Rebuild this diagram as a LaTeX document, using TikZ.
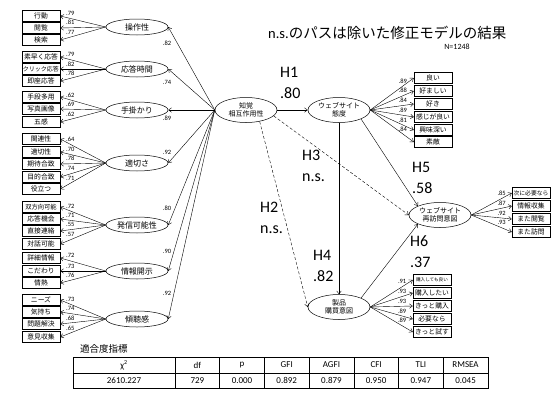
\documentclass[tikz,border=0pt]{standalone}
\usepackage{fontspec}
\setmainfont{Carlito}
\newfontfamily\jp{Noto Sans CJK JP}
\usetikzlibrary{shapes.geometric,arrows.meta,calc}
\begin{document}
\begin{tikzpicture}[x=1pt,y=-1pt,
  ind/.style={draw, line width=0.5pt, minimum width=38pt, minimum height=11pt, inner sep=0pt, font=\jp\fontsize{6.8}{7}\selectfont},
  fac/.style={draw, ellipse, line width=0.5pt, minimum width=62pt, minimum height=16pt, inner sep=0pt, font=\jp\fontsize{8}{9}\selectfont},
  lat/.style={fac, minimum height=25pt, align=center, font=\jp\fontsize{7}{8.5}\selectfont},
  ld/.style={inner sep=0pt, font=\fontsize{6.5}{7}\selectfont},
  arr/.style={-{Straight Barb[length=3pt,width=4.5pt]}, line width=0.4pt},
  darr/.style={arr, dash pattern=on 3pt off 2pt},
  hyp/.style={inner sep=0pt, anchor=west, align=left, font=\fontsize{16}{21}\selectfont},
  cell/.style={draw, line width=0.5pt, minimum width=44.7pt, minimum height=15.5pt, inner sep=0pt, font=\fontsize{9}{10}\selectfont}
]
\useasboundingbox (0,0) rectangle (558,394);

% central latent
\node[lat] (ck) at (246,110) {知覚\\相互作用性};

% left factors
\node[fac] (f1) at (137,27) {操作性};
\node[fac] (f2) at (137,69) {応答時間};
\node[fac] (f3) at (137,110) {手掛かり};
\node[fac] (f4) at (137,163) {適切さ};
\node[fac] (f5) at (137,225) {発信可能性};
\node[fac] (f6) at (137,271) {情報開示};
\node[fac] (f7) at (137,319) {傾聴感};

\foreach \f/\l/\x/\y in {f1/.82/167/43, f2/.74/167/82, f3/.89/167/118, f4/.92/167/152, f5/.80/167/208, f6/.90/167/251, f7/.92/167/293}{
  \draw[arr] (ck.west) -- (\f.east);
  \node[ld] at (\x,\y) {\l};
}

% left indicators
\foreach \f/\i/\t/\y/\l in {
  f1/a/行動/16/.79, f1/b/閲覧/28/.81, f1/c/検索/40/.77,
  f2/a/素早く応答/57/.79, f2/b/{\fontsize{6}{7}\selectfont クリック応答}/69/.82, f2/c/即座応答/81/.78,
  f3/a/手段多用/97/.62, f3/b/写真画像/109/.69, f3/c/五感/122/.62,
  f4/a/関連性/139/.64, f4/b/適切性/152/.70, f4/c/期待合致/164/.78, f4/d/目的合致/177/.74, f4/e/役立つ/189/.71,
  f5/a/{\fontsize{6.3}{7}\selectfont 双方向可能}/207/.72, f5/b/応答機会/219/.71, f5/c/直接連絡/231/.55, f5/d/対話可能/244/.57,
  f6/a/詳細情報/258/.72, f6/b/こだわり/271/.73, f6/c/情熱/283/.76,
  f7/a/ニーズ/300/.73, f7/b/気持ち/312/.74, f7/c/問題解決/324/.68, f7/d/意見収集/337/.65}{
  \node[ind] (\f\i) at (41,\y) {\t};
  \draw[arr] (\f.west) -- (\f\i.east);
  \path ($(\f\i.east)!0.22!(\f.west)$) ++(0,-5) node[ld] {\l};
}

% right latents
\node[lat] (ta) at (339,110) {ウェブサイト\\態度};
\node[lat] (sh) at (440,215) {ウェブサイト\\再訪問意図};
\node[lat] (sp) at (339,307) {製品\\購買意図};

% right indicators
\foreach \f/\i/\t/\x/\y/\l in {
  ta/a/良い/433/78/.89, ta/b/好ましい/433/91/.88, ta/c/好き/433/104/.84, ta/d/感じが良い/433/117/.89, ta/e/興味深い/433/130/.81, ta/f/素敵/433/142/.84,
  sh/a/{\fontsize{5.8}{7}\selectfont 次に必要なら}/531/193/.85, sh/b/情報収集/531/206/.87, sh/c/また閲覧/531/219/.92, sh/d/また訪問/531/232/.93,
  sp/a/{\fontsize{4.6}{6}\selectfont 購入しても良い}/432/280/.91, sp/b/購入したい/432/293/.93, sp/c/きっと購入/432/306/.93, sp/d/必要なら/432/319/.89, sp/e/きっと試す/432/332/.89}{
  \node[ind] (\f\i) at (\x,\y) {\t};
  \draw[arr] (\f.east) -- (\f\i.west);
  \path ($(\f\i.west)!0.25!(\f.east)$) ++(0,-5) node[ld] {\l};
}

% structural paths
\draw[arr] (ck.east) -- (ta.west);
\draw[arr] (ta.south) -- (sp.north);
\draw[arr] (ta.south east) -- (sh.north west);
\draw[arr] (sp.north east) -- (sh.south west);
\draw[darr] (ck.-12) -- (sh.west);
\draw[darr] (ck.-40) -- (sp.west);

% hypothesis labels
\node[hyp] (h1) at (280,82.5) {H1\\.80};
\node[hyp] (h2) at (260,217.5) {H2\\n.s.};
\node[hyp] (h3) at (302,166) {H3\\n.s.};
\node[hyp] (h4) at (313,265.5) {H4\\.82};
\node[hyp] (h5) at (412,177.5) {H5\\.58};
\node[hyp] (h6) at (410,252) {H6\\.37};

% title
\node[inner sep=0pt, anchor=west, font=\fontsize{14.5}{16}\selectfont] (title) at (268,33) {n.s.{\jp のパスは除いた修正モデルの結果}};
\node[inner sep=0pt, font=\fontsize{8}{9}\selectfont] (nn) at (457,47) {N=1248};

% fit table
\node[inner sep=0pt, anchor=west, font=\jp\fontsize{9.5}{11}\selectfont] (fit) at (80,349) {適合度指標};
\node[cell, minimum width=102pt] (h0) at (124,365) {χ\textsuperscript{2}};
\node[cell, minimum width=102pt] (v0) at (124,380.5) {2610.227};
\foreach \i/\h/\v in {1/df/729, 2/p/0.000, 3/GFI/0.892, 4/AGFI/0.879, 5/CFI/0.950, 6/TLI/0.947, 7/RMSEA/0.045}{
  \node[cell] (h\i) at ({175+44.7*(\i-0.5)},365) {\h};
  \node[cell] (v\i) at ({175+44.7*(\i-0.5)},380.5) {\v};
}
\end{tikzpicture}
\end{document}
